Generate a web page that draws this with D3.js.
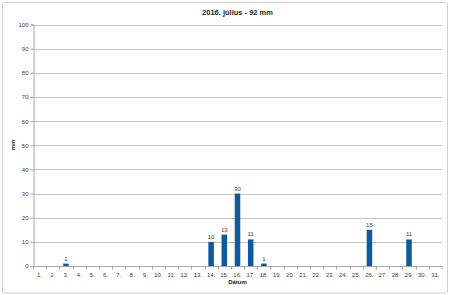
<!DOCTYPE html>
<html>
<head>
<meta charset="utf-8">
<script src="https://cdn.jsdelivr.net/npm/d3@7"></script>
<style>
  body { margin: 0; background: #fff; }
  text { font-family: "Liberation Sans", Arial, sans-serif; }
</style>
</head>
<body>
<script>
// chart size
var w = 450;
var h = 295;

// daily rain, July 2016
var days = d3.range(1, 32).map(function(d) { return d + "."; });
var rain = [0, 0, 1, 0, 0, 0, 0, 0, 0, 0, 0, 0, 0, 10, 13, 30, 11, 1, 0, 0, 0, 0, 0, 0, 0, 15, 0, 0, 11, 0, 0];
var yTicks = [0, 10, 20, 30, 40, 50, 60, 70, 80, 90, 100];

var margin = {left: 33, right: 8, top: 24.5, bottom: 29};

var svg = d3.select("body")
        .append("svg")
        .attr("width", w)
        .attr("height", h);

// outer frame
svg.append("rect")
   .attr("x", 2.5).attr("y", 2.5)
   .attr("width", w - 5).attr("height", h - 4.5)
   .attr("rx", 2)
   .attr("fill", "#fff")
   .attr("stroke", "#d0d0d0")
   .attr("stroke-width", 1);

var x = d3.scaleBand()
        .domain(days)
        .range([margin.left, w - margin.right])
        .paddingInner(0.58)
        .paddingOuter(0.29);

var xb = d3.scaleBand() // band without padding for ticks
        .domain(days)
        .range([margin.left, w - margin.right]);

var y = d3.scaleLinear()
        .domain([0, 100])
        .range([h - margin.bottom, margin.top]);

// grid lines
svg.append("g")
   .selectAll("line")
   .data(yTicks)
   .enter().append("line")
     .attr("x1", margin.left)
     .attr("x2", w - margin.right)
     .attr("y1", function(d) { return Math.round(y(d)) + 0.5; })
     .attr("y2", function(d) { return Math.round(y(d)) + 0.5; })
     .attr("stroke", "#c4c4c4");

// y axis
var gy = svg.append("g")
   .attr("transform", "translate(" + (margin.left + 0.5) + ",0)")
   .call(d3.axisLeft(y).tickValues(yTicks).tickSize(3).tickPadding(2));
gy.select(".domain").attr("stroke", "#a6a6a6");
gy.selectAll(".tick line").attr("stroke", "#a6a6a6");
gy.selectAll(".tick text").attr("font-size", 6).attr("fill", "#404040")
   .attr("font-family", "Liberation Sans, Arial, sans-serif");

// x axis
var gx = svg.append("g")
   .attr("transform", "translate(0," + (Math.round(y(0)) + 0.5) + ")");
gx.append("line")
   .attr("x1", margin.left).attr("x2", w - margin.right)
   .attr("stroke", "#a6a6a6");
gx.selectAll(".tk")
   .data(days.concat(["end"]))
   .enter().append("line")
     .attr("class", "tk")
     .attr("x1", function(d) { return d === "end" ? w - margin.right : Math.round(xb(d)) + 0.5; })
     .attr("x2", function(d) { return d === "end" ? w - margin.right : Math.round(xb(d)) + 0.5; })
     .attr("y1", 0).attr("y2", 3)
     .attr("stroke", "#a6a6a6");
gx.selectAll(".lb")
   .data(days)
   .enter().append("text")
     .attr("class", "lb")
     .attr("x", function(d) { return xb(d) + xb.bandwidth() / 2; })
     .attr("y", 10)
     .attr("text-anchor", "middle")
     .attr("font-size", 6)
     .attr("fill", "#404040")
     .text(function(d) { return d; });

// bars
svg.selectAll(".bar")
   .data(rain.map(function(v, i) { return {day: days[i], v: v}; }).filter(function(d) { return d.v > 0; }))
   .enter().append("rect")
     .attr("class", "bar")
     .attr("x", function(d) { return x(d.day); })
     .attr("width", x.bandwidth())
     .attr("y", function(d) { return y(d.v); })
     .attr("height", function(d) { return y(0) - y(d.v); })
     .attr("fill", "#0e5a9c");

// value labels
svg.selectAll(".val")
   .data(rain.map(function(v, i) { return {day: days[i], v: v}; }).filter(function(d) { return d.v > 0; }))
   .enter().append("text")
     .attr("class", "val")
     .attr("x", function(d) { return x(d.day) + x.bandwidth() / 2; })
     .attr("y", function(d) { return y(d.v) - 3; })
     .attr("text-anchor", "middle")
     .attr("font-size", 6)
     .attr("fill", "#404040")
     .text(function(d) { return d.v; });

// titles
svg.append("text")
   .attr("x", (margin.left + w - margin.right) / 2)
   .attr("y", 15)
   .attr("text-anchor", "middle")
   .attr("font-size", 7.5)
   .attr("font-weight", "bold")
   .attr("fill", "#262626")
   .text("2016. július - 92 mm");

svg.append("text")
   .attr("x", (margin.left + w - margin.right) / 2)
   .attr("y", 284)
   .attr("text-anchor", "middle")
   .attr("font-size", 6)
   .attr("font-weight", "bold")
   .attr("fill", "#262626")
   .text("Dátum");

svg.append("text")
   .attr("transform", "translate(15,145) rotate(-90)")
   .attr("text-anchor", "middle")
   .attr("font-size", 6)
   .attr("font-weight", "bold")
   .attr("fill", "#262626")
   .text("mm");
</script>
</body>
</html>
